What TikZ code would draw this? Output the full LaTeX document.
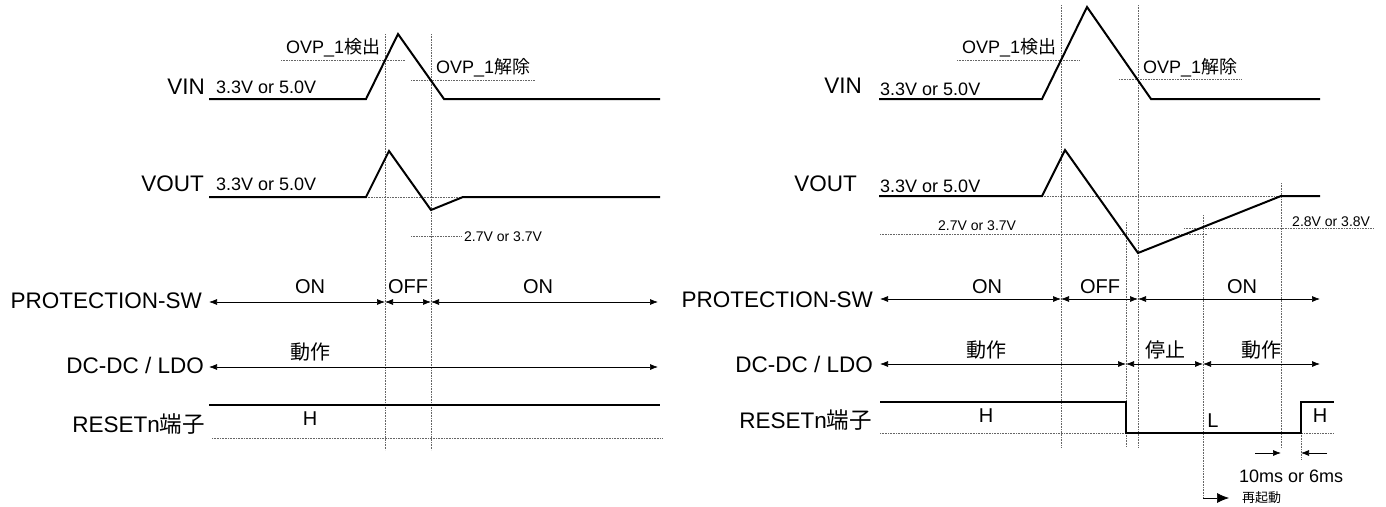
\documentclass[tikz,border=0pt]{standalone}
\usepackage{fontspec}
\setmainfont{Liberation Sans}
\newfontfamily\jafont{Noto Sans CJK JP}
\usetikzlibrary{arrows.meta}
\tikzset{
  wave/.style={line width=2pt,line join=miter},
  guide/.style={densely dotted,draw=black!60,line width=0.6pt},
  span/.style={{Latex[length=8pt,width=6pt]}-{Latex[length=8pt,width=6pt]},line width=0.7pt},
  onearrow/.style={-{Latex[length=8pt,width=6pt]},line width=0.7pt},
  bigarrow/.style={-{Latex[length=12pt,width=10pt]},line width=0.7pt},
  siglbl/.style={anchor=base east,font=\fontsize{22.5}{24}\selectfont,inner sep=0pt},
  lvl/.style={anchor=base west,font=\fontsize{18}{20}\selectfont,inner sep=0pt},
  smalllvl/.style={anchor=base west,font=\fontsize{14}{16}\selectfont,inner sep=0pt},
  statelbl/.style={anchor=base,font=\fontsize{20}{22}\selectfont,inner sep=0pt},
}

\begin{document}
\begin{tikzpicture}[x=1pt,y=-1pt]
  \useasboundingbox (0,0) rectangle (1386,506);
  % left: OVP detected and released while running
  \draw[guide] (385,34) -- (385,450);
  \draw[guide] (431,34) -- (431,450);
  \draw[guide] (281,60) -- (405,60);
  \draw[guide] (411,80) -- (535,80);
  \draw[guide] (366,197) -- (463,197);
  \draw[guide] (411,236) -- (462,236);
  \draw[guide] (212,438) -- (663,438);
  \draw[wave] (209,99) -- (366,99) -- (398,34) -- (444,99) -- (660,99);
  \draw[wave] (209,197) -- (366,197) -- (389,151) -- (431,210) -- (463,197) -- (660,197);
  \draw[wave] (209,405) -- (660,405);
  \node[siglbl] (vinL)   at (205,94)  {VIN};
  \node[siglbl] (voutL)  at (204,191) {VOUT};
  \node[siglbl] (pswL)   at (202,308) {PROTECTION-SW};
  \node[siglbl] (dcL)    at (204,373) {DC-DC / LDO};
  \node[siglbl] (rstL)   at (205,432) {RESETn{\jafont 端子}};
  \node[lvl] (vinlvL)  at (216,93)  {3.3V or 5.0V};
  \node[lvl] (voutlvL) at (216,190) {3.3V or 5.0V};
  \node[lvl] (detL)    at (286,53)  {OVP\_1{\jafont 検出}};
  \node[lvl] (relL)    at (436,73)  {OVP\_1{\jafont 解除}};
  \node[smalllvl] (uvL) at (464,241) {2.7V or 3.7V};
  \coordinate (pL0) at (209,302);
  \coordinate (pL1) at (385,302);
  \coordinate (pL2) at (431,302);
  \coordinate (pL3) at (658,302);
  \draw[span] (pL0) -- (pL1);
  \draw[span] (pL1) -- (pL2);
  \draw[span] (pL2) -- (pL3);
  \node[statelbl] (onL1)  at (310,293) {ON};
  \node[statelbl] (offL)  at (408,293) {OFF};
  \node[statelbl] (onL2)  at (538,293) {ON};
  \coordinate (dL0) at (209,367);
  \coordinate (dL1) at (658,367);
  \draw[span] (dL0) -- (dL1);
  \node[statelbl] (runL)  at (310,359) {\jafont 動作};
  \node[statelbl] (hL)    at (310,425) {H};
  % right: VOUT falls below UVLO, restart after delay
  \draw[guide] (1061,5) -- (1061,447);
  \draw[guide] (1138,5) -- (1138,447);
  \draw[guide] (957,60) -- (1080,60);
  \draw[guide] (1119,79) -- (1242,79);
  \draw[guide] (1042,196) -- (1281,196);
  \draw[guide] (880,234) -- (1207,234);
  \draw[guide] (1184,228) -- (1373,228);
  \draw[guide] (1126,222) -- (1126,447);
  \draw[guide] (1203,215) -- (1203,497);
  \draw[guide] (1281,183) -- (1281,448);
  \draw[guide] (1301,433) -- (1301,460);
  \draw[guide] (880,433) -- (1334,433);
  \draw[wave] (879,99) -- (1042,99) -- (1087,7) -- (1151,99) -- (1320,99);
  \draw[wave] (879,196) -- (1042,196) -- (1065,150) -- (1138,253) -- (1281,196) -- (1320,196);
  \draw[wave] (880,402) -- (1126,402) -- (1126,433) -- (1301,433) -- (1301,402) -- (1334,402);
  \node[siglbl] (vinR)   at (862,93)  {VIN};
  \node[siglbl] (voutR)  at (857,191) {VOUT};
  \node[siglbl] (pswR)   at (873,307) {PROTECTION-SW};
  \node[siglbl] (dcR)    at (873,372) {DC-DC / LDO};
  \node[siglbl] (rstR)   at (872,428) {RESETn{\jafont 端子}};
  \node[lvl] (vinlvR)  at (880,95)  {3.3V or 5.0V};
  \node[lvl] (voutlvR) at (880,192) {3.3V or 5.0V};
  \node[lvl] (detR)    at (962,53)  {OVP\_1{\jafont 検出}};
  \node[lvl] (relR)    at (1143,73) {OVP\_1{\jafont 解除}};
  \node[smalllvl] (uvR) at (938,230)  {2.7V or 3.7V};
  \node[smalllvl] (rsR) at (1292,226) {2.8V or 3.8V};
  \coordinate (pR0) at (880,299);
  \coordinate (pR1) at (1061,299);
  \coordinate (pR2) at (1138,299);
  \coordinate (pR3) at (1320,299);
  \draw[span] (pR0) -- (pR1);
  \draw[span] (pR1) -- (pR2);
  \draw[span] (pR2) -- (pR3);
  \node[statelbl] (onR1)  at (987,293)  {ON};
  \node[statelbl] (offR)  at (1100,293) {OFF};
  \node[statelbl] (onR2)  at (1242,293) {ON};
  \coordinate (dR0) at (880,364);
  \coordinate (dR1) at (1126,364);
  \coordinate (dR2) at (1203,364);
  \coordinate (dR3) at (1320,364);
  \draw[span] (dR0) -- (dR1);
  \draw[span] (dR1) -- (dR2);
  \draw[span] (dR2) -- (dR3);
  \node[statelbl] (runR1) at (986,357)  {\jafont 動作};
  \node[statelbl] (stopR) at (1165,357) {\jafont 停止};
  \node[statelbl] (runR2) at (1261,357) {\jafont 動作};
  \node[statelbl] (hR1)   at (986,422)  {H};
  \node[statelbl] (lR)    at (1213,427) {L};
  \node[statelbl] (hR2)   at (1320,422) {H};
  \coordinate (tA0) at (1255,453);
  \coordinate (tA1) at (1281,453);
  \coordinate (tB0) at (1327,453);
  \coordinate (tB1) at (1301,453);
  \draw[onearrow] (tA0) -- (tA1);
  \draw[onearrow] (tB0) -- (tB1);
  \node[lvl] (dlyR) at (1239,482) {10ms or 6ms};
  \coordinate (rs0) at (1203,498);
  \coordinate (rs1) at (1229,498);
  \draw[bigarrow] (rs0) -- (rs1);
  \node[anchor=west,font=\jafont\fontsize{13}{15}\selectfont,inner sep=0pt] (rstart) at (1242,498) {再起動};
\end{tikzpicture}
\end{document}
